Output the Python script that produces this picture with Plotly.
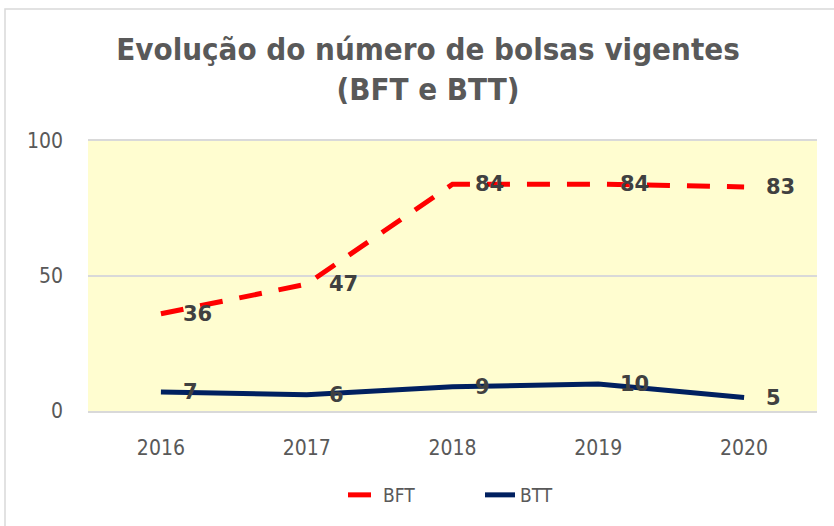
import plotly.graph_objects as go

years = ["2016", "2017", "2018", "2019", "2020"]
bft = [36, 47, 84, 84, 83]
btt = [7, 6, 9, 10, 5]
title_text = "Evolução do número de bolsas vigentes<br>(BFT e BTT)"

W, H = 834, 526
L, R, T, B = 88, 17, 141, 115
pw, ph = W - L - R, H - T - B
COND = "DejaVu Sans Condensed, DejaVu Sans, sans-serif"

fig = go.Figure()
fig.add_trace(go.Scatter(x=years, y=bft, name="BFT", mode="lines",
                         line=dict(color="#FF0000", width=5, dash="23px,17px")))
fig.add_trace(go.Scatter(x=years, y=btt, name="BTT", mode="lines",
                         line=dict(color="#002060", width=5)))

for series in (bft, btt):
    for i, yv in enumerate(series):
        fig.add_annotation(x=i, y=yv, text=str(yv), showarrow=False,
                           xanchor="left", yanchor="middle", xshift=20,
                           font=dict(family="DejaVu Sans, Tahoma, sans-serif", size=21,
                                     color="#404040", weight="bold"))

# outer chart frame
fig.add_shape(type="rect", xref="paper", yref="paper",
              x0=(5 - L) / pw, x1=(W + 5 - L) / pw,
              y0=-(H + 5 - T - ph) / ph, y1=1 + (T - 9) / ph,
              line=dict(color="#D9D9D9", width=1.5), layer="below")

fig.update_layout(
    width=W, height=H,
    margin=dict(l=L, r=R, t=T, b=B),
    paper_bgcolor="white",
    plot_bgcolor="#FFFDD0",
    title=dict(text=title_text, x=(428 - L) / pw, xanchor="center", xref="paper",
               y=1 - 60 / H, yanchor="middle",
               font=dict(family=COND, size=31, color="#595959", weight="bold")),
    xaxis=dict(type="category", range=[-0.5, 4.5], showgrid=False, zeroline=False,
               showline=True, mirror=True, linecolor="#D9D9D9", linewidth=2,
               ticks="", ticklabelstandoff=17,
               tickfont=dict(family=COND, size=21, color="#595959")),
    yaxis=dict(range=[0, 100], tickvals=[0, 50, 100], showgrid=True, gridcolor="#D9D9D9",
               gridwidth=2, zeroline=False, showline=False, ticks="", ticklabelstandoff=24,
               tickfont=dict(family=COND, size=21, color="#595959")),
    legend=dict(orientation="h", x=(480 - L) / pw, xanchor="center", y=-(495 - T - ph) / ph,
                yanchor="middle",
                font=dict(family=COND, size=19, color="#595959"),
                entrywidth=92, bgcolor="rgba(0,0,0,0)"),
    showlegend=True,
)

fig.write_html("out.html", config={"displayModeBar": False},
               post_script="document.body.style.margin='0';document.body.style.padding='0';")
